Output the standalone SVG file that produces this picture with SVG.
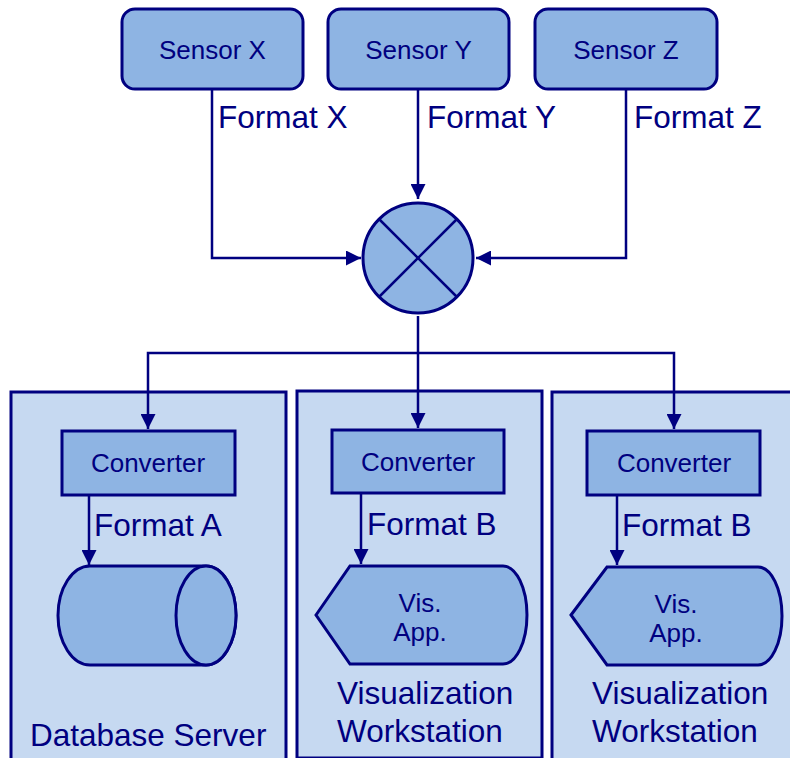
<svg xmlns="http://www.w3.org/2000/svg" width="790" height="758" viewBox="0 0 790 758">
  <style>
    .shape { fill: #8EB4E3; stroke: #000080; stroke-width: 3; }
    .box { fill: #C6D9F1; stroke: #000080; stroke-width: 3; }
    .wire { fill: none; stroke: #000080; stroke-width: 2.5; }
    .small { font-family: "Liberation Sans", Arial, sans-serif; font-size: 26px; fill: #000080; }
    .big { font-family: "Liberation Sans", Arial, sans-serif; font-size: 31.5px; fill: #000080; }
    .mid { text-anchor: middle; }
  </style>
  <defs>
    <marker id="arrow" viewBox="0 0 10 10" refX="10" refY="5" markerWidth="6" markerHeight="6" markerUnits="strokeWidth" orient="auto">
      <path d="M0,0 L10,5 L0,10 Z" fill="#000080"/>
    </marker>
  </defs>
  <rect width="790" height="758" fill="#ffffff"/>

  <!-- host containers -->
  <g id="database-server">
    <rect class="box" x="11" y="392" width="275" height="380"/>
    <text class="big" x="30" y="746">Database Server</text>
  </g>
  <g id="workstation-1">
    <rect class="box" x="297" y="391" width="245" height="367"/>
    <text class="big" x="337" y="704">Visualization</text>
    <text class="big" x="337" y="742">Workstation</text>
  </g>
  <g id="workstation-2">
    <rect class="box" x="552" y="392" width="260" height="380"/>
    <text class="big" x="592" y="704">Visualization</text>
    <text class="big" x="592" y="742">Workstation</text>
  </g>

  <!-- connectors -->
  <g id="connectors">
    <polyline class="wire" points="212,89 212,258 361,258" marker-end="url(#arrow)"/>
    <polyline class="wire" points="418,89 418,199" marker-end="url(#arrow)"/>
    <polyline class="wire" points="626,89 626,258 476,258" marker-end="url(#arrow)"/>
    <polyline class="wire" points="418,316 418,353"/>
    <polyline class="wire" points="418,353 148,353 148,429" marker-end="url(#arrow)"/>
    <polyline class="wire" points="418,353 418,428" marker-end="url(#arrow)"/>
    <polyline class="wire" points="418,353 674,353 674,429" marker-end="url(#arrow)"/>
    <polyline class="wire" points="89,495 89,565" marker-end="url(#arrow)"/>
    <polyline class="wire" points="361,493 361,564" marker-end="url(#arrow)"/>
    <polyline class="wire" points="617,495 617,565" marker-end="url(#arrow)"/>
    <text class="big" x="218" y="128">Format X</text>
    <text class="big" x="427" y="128">Format Y</text>
    <text class="big" x="634" y="128">Format Z</text>
    <text class="big" x="94" y="536">Format A</text>
    <text class="big" x="367" y="535">Format B</text>
    <text class="big" x="622" y="536">Format B</text>
  </g>

  <!-- sensors -->
  <g id="sensor-x">
    <rect class="shape" x="122" y="9" width="181" height="80" rx="13"/>
    <text class="small mid" x="212.5" y="59">Sensor X</text>
  </g>
  <g id="sensor-y">
    <rect class="shape" x="328" y="9" width="181" height="80" rx="13"/>
    <text class="small mid" x="418.5" y="59">Sensor Y</text>
  </g>
  <g id="sensor-z">
    <rect class="shape" x="535" y="9" width="182" height="80" rx="13"/>
    <text class="small mid" x="626" y="59">Sensor Z</text>
  </g>

  <!-- merge junction -->
  <g id="merge">
    <circle class="shape" cx="418" cy="258" r="55"/>
    <path class="wire" stroke-width="3" d="M379,219 L457,297 M457,219 L379,297"/>
  </g>

  <!-- converters -->
  <g id="converter-a">
    <rect class="shape" x="62" y="431" width="173" height="64"/>
    <text class="small mid" x="148" y="472">Converter</text>
  </g>
  <g id="converter-b1">
    <rect class="shape" x="332" y="430" width="172" height="63"/>
    <text class="small mid" x="418" y="471">Converter</text>
  </g>
  <g id="converter-b2">
    <rect class="shape" x="587" y="431" width="173" height="64"/>
    <text class="small mid" x="674" y="472">Converter</text>
  </g>

  <!-- storage -->
  <g id="database">
    <path class="shape" d="M90,566 L206,566 A30,49.5 0 0 1 206,665 L90,665 A32,49.5 0 0 1 90,566 Z"/>
    <ellipse class="shape" cx="206" cy="615.5" rx="30" ry="49.5"/>
  </g>

  <!-- display applications -->
  <g id="vis-app-1">
    <path class="shape" d="M316,615 L350,566 L503,566 A24,49 0 0 1 503,664 L350,664 Z"/>
    <text class="small mid" x="420" y="612">Vis.</text>
    <text class="small mid" x="420" y="641">App.</text>
  </g>
  <g id="vis-app-2">
    <path class="shape" d="M571,615 L607,567 L758,567 A24,49 0 0 1 758,665 L607,665 Z"/>
    <text class="small mid" x="676" y="613">Vis.</text>
    <text class="small mid" x="676" y="642">App.</text>
  </g>
</svg>
